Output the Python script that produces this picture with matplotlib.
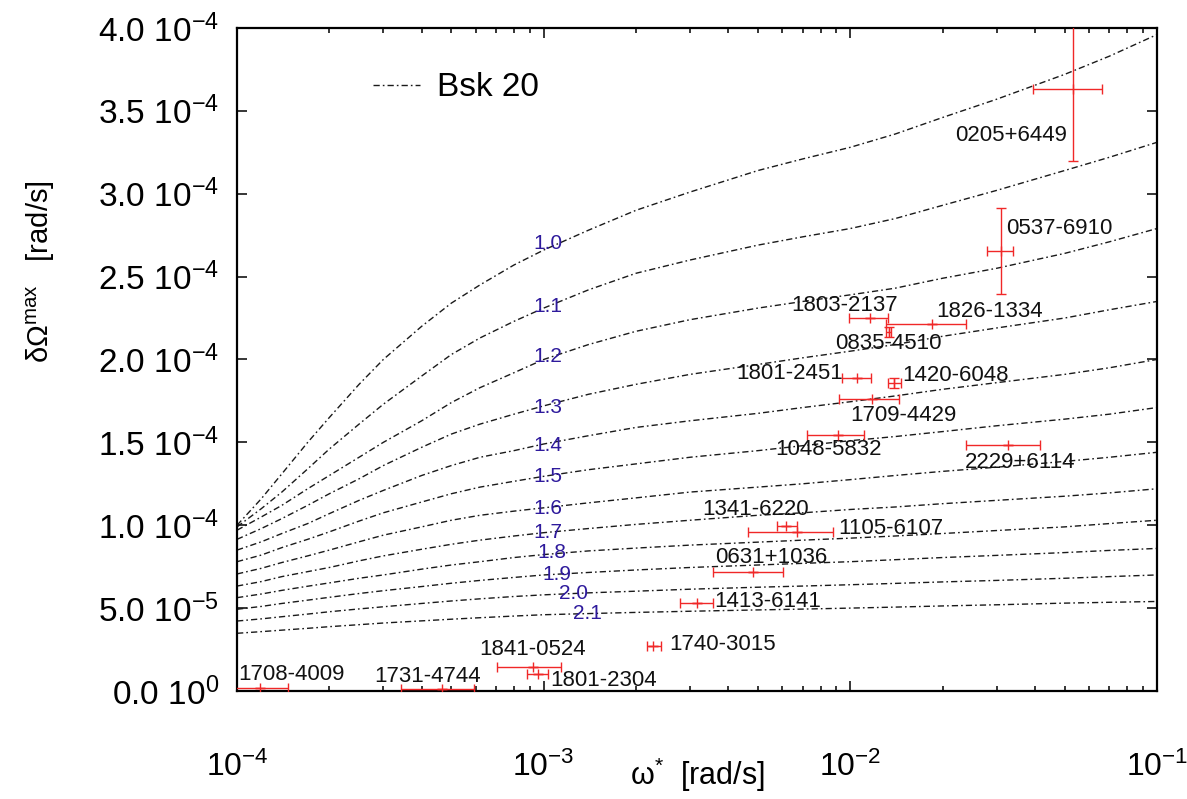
import matplotlib
matplotlib.use("Agg")
import matplotlib.pyplot as plt
import numpy as np

plt.rcParams["font.family"] = ["Liberation Sans", "DejaVu Sans"]
plt.rcParams["mathtext.fontset"] = "custom"
plt.rcParams["mathtext.rm"] = "Liberation Sans"
plt.rcParams["mathtext.it"] = "Liberation Sans:italic"
plt.rcParams["mathtext.bf"] = "Liberation Sans:bold"

# --- curves (Bsk 20), values in units of 1e-4 rad/s ---
omega = [1e-4, 1.2e-4, 1.4e-4, 1.7e-4, 2e-4, 2.5e-4, 3e-4, 4e-4, 5e-4, 6.2e-4, 8e-4,
         1e-3, 1.4e-3, 2e-3, 3e-3, 5e-3, 7e-3, 1e-2, 1.4e-2, 2e-2, 3e-2, 5e-2, 7e-2, 1e-1]
curve_labels = ["1.0", "1.1", "1.2", "1.3", "1.4", "1.5", "1.6", "1.7", "1.8", "1.9", "2.0", "2.1"]
curves = [
    [1.00, 1.16, 1.31, 1.50, 1.65, 1.85, 2.00, 2.20, 2.34, 2.45, 2.57, 2.66,
     2.78, 2.90, 3.01, 3.14, 3.21, 3.28, 3.36, 3.46, 3.57, 3.72, 3.83, 3.96],
    [0.99, 1.10, 1.20, 1.34, 1.46, 1.61, 1.73, 1.90, 2.03, 2.13, 2.23, 2.31,
     2.42, 2.52, 2.60, 2.69, 2.74, 2.79, 2.85, 2.93, 3.02, 3.14, 3.22, 3.31],
    [0.97, 1.05, 1.12, 1.22, 1.30, 1.41, 1.50, 1.63, 1.74, 1.83, 1.92, 2.00,
     2.09, 2.17, 2.24, 2.31, 2.35, 2.39, 2.43, 2.49, 2.55, 2.64, 2.71, 2.79],
    [0.915, 0.98, 1.04, 1.12, 1.19, 1.28, 1.36, 1.47, 1.55, 1.61, 1.67, 1.72,
     1.79, 1.85, 1.91, 1.97, 2.01, 2.05, 2.09, 2.14, 2.19, 2.25, 2.30, 2.35],
    [0.85, 0.90, 0.95, 1.01, 1.07, 1.15, 1.21, 1.30, 1.36, 1.41, 1.45, 1.49,
     1.54, 1.59, 1.63, 1.675, 1.71, 1.745, 1.78, 1.82, 1.86, 1.91, 1.95, 2.00],
    [0.78, 0.82, 0.865, 0.915, 0.96, 1.025, 1.075, 1.14, 1.19, 1.23, 1.265, 1.295,
     1.335, 1.37, 1.41, 1.45, 1.48, 1.51, 1.535, 1.565, 1.60, 1.64, 1.67, 1.71],
    [0.706, 0.74, 0.775, 0.815, 0.85, 0.90, 0.94, 0.99, 1.03, 1.06, 1.085, 1.105,
     1.135, 1.165, 1.20, 1.23, 1.25, 1.275, 1.30, 1.325, 1.35, 1.385, 1.41, 1.44],
    [0.633, 0.66, 0.69, 0.72, 0.745, 0.785, 0.815, 0.855, 0.885, 0.91, 0.935, 0.955,
     0.98, 1.005, 1.03, 1.06, 1.075, 1.095, 1.11, 1.13, 1.15, 1.175, 1.195, 1.22],
    [0.563, 0.585, 0.607, 0.632, 0.652, 0.68, 0.70, 0.735, 0.76, 0.78, 0.805, 0.823,
     0.845, 0.862, 0.88, 0.898, 0.91, 0.922, 0.935, 0.95, 0.968, 0.99, 1.01, 1.03],
    [0.493, 0.51, 0.528, 0.548, 0.565, 0.588, 0.605, 0.63, 0.65, 0.667, 0.685, 0.70,
     0.715, 0.73, 0.745, 0.76, 0.77, 0.78, 0.792, 0.805, 0.818, 0.835, 0.848, 0.86],
    [0.422, 0.435, 0.448, 0.464, 0.478, 0.495, 0.508, 0.528, 0.543, 0.556, 0.57, 0.58,
     0.592, 0.602, 0.614, 0.626, 0.633, 0.641, 0.649, 0.658, 0.667, 0.68, 0.69, 0.70],
    [0.348, 0.358, 0.367, 0.378, 0.388, 0.40, 0.41, 0.423, 0.433, 0.442, 0.452, 0.46,
     0.467, 0.474, 0.481, 0.489, 0.494, 0.50, 0.506, 0.513, 0.52, 0.53, 0.535, 0.54],
]
# where the mass labels sit (omega, value in 1e-4)
curve_label_x = [1.03e-3, 1.03e-3, 1.03e-3, 1.03e-3, 1.03e-3, 1.03e-3,
                 1.03e-3, 1.03e-3, 1.065e-3, 1.105e-3, 1.25e-3, 1.385e-3]
curve_label_y = [2.70, 2.32, 2.015, 1.713, 1.478, 1.291, 1.098, 0.959, 0.833, 0.70, 0.591, 0.465]

# --- pulsars: omega*, omega range, dOmega (1e-4), dOmega error (1e-4) ---
pulsars = ["0205+6449", "0537-6910", "1803-2137", "1826-1334", "0835-4510",
           "1801-2451", "1420-6048", "1709-4429", "1048-5832", "2229+6114",
           "1341-6220", "1105-6107", "0631+1036", "1413-6141", "1740-3015",
           "1841-0524", "1801-2304", "1708-4009", "1731-4744"]
psr_x = [5.32e-2, 3.10e-2, 1.16e-2, 1.85e-2, 1.335e-2,
         1.053e-2, 1.39e-2, 1.174e-2, 0.912e-2, 3.27e-2,
         6.17e-3, 6.68e-3, 4.83e-3, 3.16e-3, 2.277e-3,
         9.25e-4, 9.60e-4, 1.19e-4, 4.66e-4]
psr_x_lo = [3.94e-2, 2.79e-2, 0.99e-2, 1.31e-2, 1.31e-2,
            0.937e-2, 1.323e-2, 0.920e-2, 0.722e-2, 2.38e-2,
            5.75e-3, 4.65e-3, 3.56e-3, 2.78e-3, 2.167e-3,
            7.03e-4, 8.84e-4, 0.95e-4, 3.42e-4]
psr_x_hi = [6.61e-2, 3.39e-2, 1.33e-2, 2.38e-2, 1.36e-2,
            1.167e-2, 1.459e-2, 1.443e-2, 1.107e-2, 4.15e-2,
            6.68e-3, 8.80e-3, 6.02e-3, 3.56e-3, 2.407e-3,
            1.139e-3, 1.035e-3, 1.47e-4, 5.93e-4]
psr_y = [3.63, 2.655, 2.249, 2.216, 2.168,
         1.887, 1.856, 1.762, 1.545, 1.484,
         0.993, 0.959, 0.716, 0.531, 0.271,
         0.143, 0.10, 0.02, 0.01]
psr_y_lo = [0.43, 0.26, 0, 0, 0.03, 0, 0.03, 0, 0, 0, 0, 0, 0, 0, 0, 0, 0, 0, 0]
psr_y_hi = [0.55, 0.26, 0, 0, 0.03, 0, 0.03, 0, 0, 0, 0, 0, 0, 0, 0, 0, 0, 0, 0]
# label anchor (left edge, vertical centre)
psr_label_x = [2.193e-2, 3.233e-2, 6.40e-3, 1.912e-2, 8.90e-3,
               4.25e-3, 1.481e-2, 9.97e-3, 5.70e-3, 2.364e-2,
               3.29e-3, 9.13e-3, 3.62e-3, 3.60e-3, 2.567e-3,
               6.15e-4, 1.048e-3, 1.01e-4, 2.80e-4]
psr_label_y = [3.354, 2.79, 2.323, 2.29, 2.095,
               1.914, 1.905, 1.662, 1.456, 1.38,
               1.095, 0.979, 0.805, 0.539, 0.278,
               0.253, 0.0645, 0.0965, 0.086]

yticks = [0.0, 0.5, 1.0, 1.5, 2.0, 2.5, 3.0, 3.5, 4.0]
ytick_labels = ["0.0 10$^{0}$", "5.0 10$^{-5}$", "1.0 10$^{-4}$", "1.5 10$^{-4}$",
                "2.0 10$^{-4}$", "2.5 10$^{-4}$", "3.0 10$^{-4}$", "3.5 10$^{-4}$",
                "4.0 10$^{-4}$"]
xticks = [1e-4, 1e-3, 1e-2, 1e-1]
xtick_labels = ["10$^{-4}$", "10$^{-3}$", "10$^{-2}$", "10$^{-1}$"]

S = 1e-4
dashdot = (0, (4.5, 2.2, 1.2, 2.2))

fig = plt.figure(figsize=(11.87, 7.99), dpi=100)
ax = fig.add_axes([0.1997, 0.1352, 0.7750, 0.8298])

for i, vals in enumerate(curves):
    ax.plot(omega, np.array(vals) * S, color="#1a1a1a", lw=1.0, ls=dashdot,
            label="Bsk 20" if i == 0 else None)
    ax.text(curve_label_x[i], curve_label_y[i] * S, curve_labels[i], color="#2e1a9c",
            fontsize=15, ha="center", va="center")

x = np.array(psr_x)
xerr = [x - np.array(psr_x_lo), np.array(psr_x_hi) - x]
yerr = [np.array(psr_y_lo) * S, np.array(psr_y_hi) * S]
ax.errorbar(x, np.array(psr_y) * S, xerr=xerr, yerr=yerr, fmt="|", ms=7,
            color="#f02828", ecolor="#f02828", elinewidth=1.0, capsize=3.4,
            capthick=1.0, mew=1.0, zorder=3)

for name, lx, ly in zip(pulsars, psr_label_x, psr_label_y):
    ax.text(lx, ly * S, name, fontsize=16, ha="left", va="center", color="#111111")

ax.set_xscale("log")
ax.set_xlim(1e-4, 1e-1)
ax.set_ylim(0, 4e-4)
ax.set_yticks(np.array(yticks) * S)
ax.set_yticklabels(ytick_labels)
ax.set_xticks(xticks)
ax.set_xticklabels(xtick_labels)

ax.tick_params(which="both", direction="in", top=True, right=True, width=1.1)
ax.tick_params(which="major", length=7.2)
ax.tick_params(which="minor", length=3.8)
ax.tick_params(axis="y", labelsize=24, pad=13)
ax.tick_params(axis="x", labelsize=23, pad=44)
for sp in ax.spines.values():
    sp.set_linewidth(1.6)

ax.set_xlabel("ω$^{*}$  [rad/s]", fontsize=22)
ax.set_ylabel("δΩ$^{\\mathrm{max}}$   [rad/s]", fontsize=21)
ax.xaxis.set_label_coords(0.5, -0.098)
ax.yaxis.set_label_coords(-0.196, 0.633)

ax.legend(loc="center left", bbox_to_anchor=(0.148, 0.9095), frameon=False,
          fontsize=24, handlelength=1.4, handletextpad=0.5, borderpad=0,
          borderaxespad=0)

fig.savefig("out.png", dpi=100)
